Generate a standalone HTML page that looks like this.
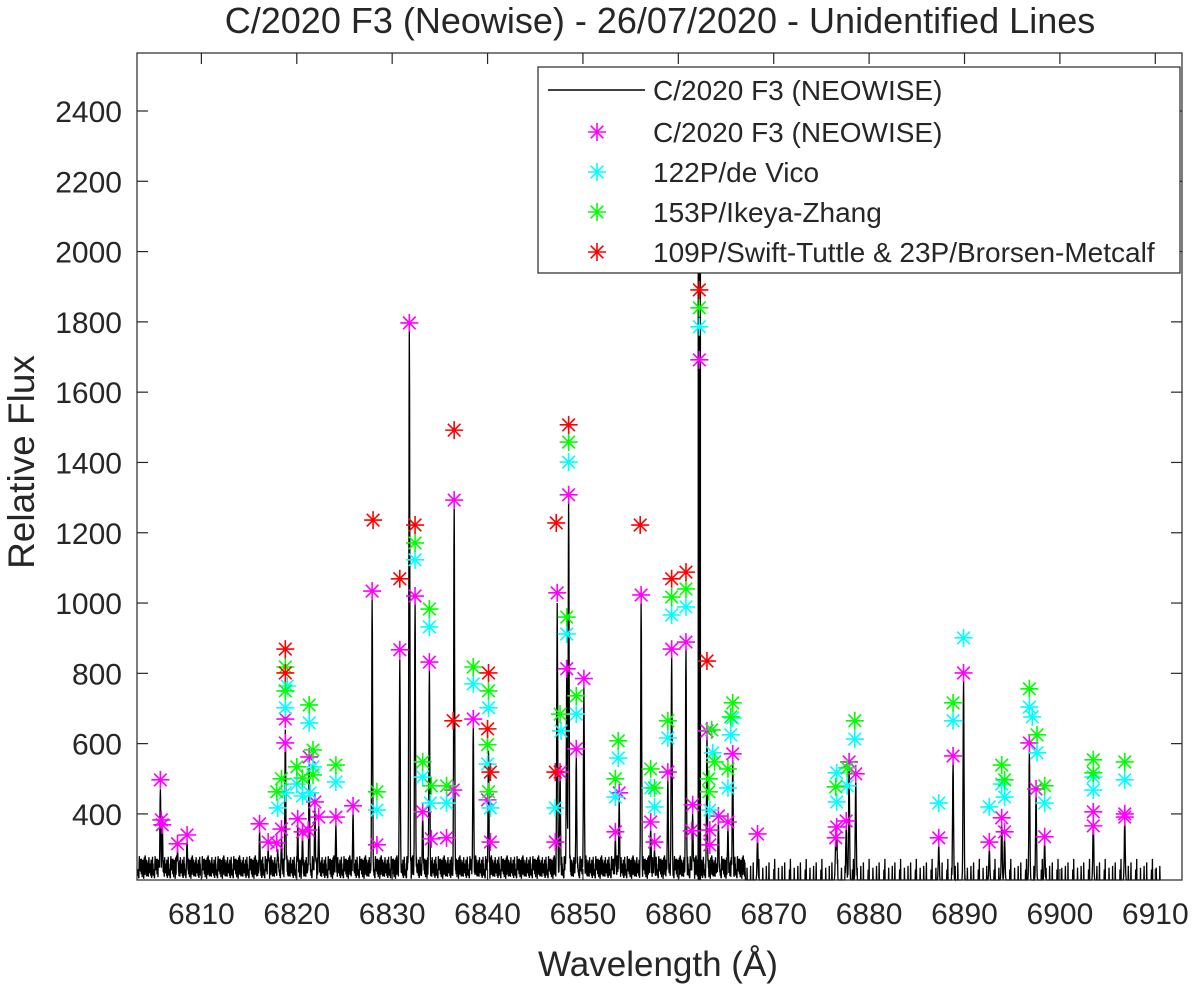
<!DOCTYPE html>
<html><head><meta charset="utf-8"><style>
body{margin:0;background:#fff;}
svg text{font-family:"Liberation Sans",Arial,sans-serif;fill:#262626;}
</style></head><body>
<svg id="chart" width="1200" height="989" viewBox="0 0 1200 989" xmlns="http://www.w3.org/2000/svg">
<rect width="1200" height="989" fill="#fff"/>
<text x="660" y="33" font-size="36" text-anchor="middle" fill="#000">C/2020 F3 (Neowise) - 26/07/2020 - Unidentified Lines</text>
<text transform="translate(34,462) rotate(-90)" font-size="37" text-anchor="middle">Relative Flux</text>
<text x="658" y="976" font-size="35" text-anchor="middle">Wavelength (Å)</text>
<g id="spec"></g><g id="marks"></g><g id="axes"></g>
<g>
<rect x="538" y="67" width="642" height="206" fill="#fff" stroke="#262626" stroke-width="1.2"/>
<line x1="548" y1="90" x2="645" y2="90" stroke="#000" stroke-width="1.5"/>
<text x="653" y="100" font-size="28" fill="#000">C/2020 F3 (NEOWISE)</text>
<g id="legmarks"></g>
<text x="653" y="142" font-size="28" fill="#000">C/2020 F3 (NEOWISE)</text>
<text x="653" y="182" font-size="28" fill="#000">122P/de Vico</text>
<text x="653" y="222" font-size="28" fill="#000">153P/Ikeya-Zhang</text>
<text x="653" y="262" font-size="28" fill="#000">109P/Swift-Tuttle &amp; 23P/Brorsen-Metcalf</text>
</g>
</svg>
<script>
const xTicks=[6810,6820,6830,6840,6850,6860,6870,6880,6890,6900,6910];
const yTicks=[400,600,800,1000,1200,1400,1600,1800,2000,2200,2400];
const peakWl=[6805.7,6805.9,6807.5,6808.5,6816.1,6817.0,6818.0,6818.4,6818.8,6820.1,6820.6,6821.3,6821.9,6822.3,6824.1,6825.9,6827.9,6830.8,6831.8,6832.4,6833.2,6833.9,6836.5,6838.5,6840.1,6847.3,6847.6,6848.3,6848.5,6849.3,6850.1,6853.4,6853.8,6856.1,6857.1,6857.5,6858.9,6859.3,6860.8,6861.5,6862.2,6863.0,6864.2,6865.2,6865.7,6868.3,6876.5,6876.6,6877.6,6877.9,6878.6,6887.3,6888.8,6889.9,6892.6,6893.9,6894.2,6896.8,6897.5,6898.4,6903.5,6906.8];
const peakFlux=[470,380,300,320,350,300,300,330,640,370,340,530,420,370,370,400,1010,840,1780,1000,400,810,1280,650,580,1000,520,790,1290,560,760,330,440,1000,360,300,500,850,870,400,2300,620,380,360,550,330,330,350,360,530,500,310,545,780,300,370,330,580,450,320,380,380];
const noise=[22,45,10,58,28,15,65,31,8,50,26,60,18,43,12,55,29,6,48,62,21,14,53,30,9,46,70,24,17,57,11,49,27,63,19,5,52,36,13,59,23,47,7,54,20,66,16,44,25,51,3,56,33,61,14,40,68,21,9,47,35,58,12,29,64,38];
const magWl=[6805.7,6805.8,6805.9,6807.5,6808.5,6816.1,6817.0,6817.9,6818.4,6818.8,6818.8,6820.1,6820.6,6821.2,6821.3,6821.9,6822.3,6824.1,6825.9,6827.9,6828.4,6830.8,6831.8,6832.4,6833.2,6833.9,6834.1,6835.7,6836.4,6836.5,6838.5,6840.0,6840.3,6847.3,6847.1,6847.6,6848.3,6848.5,6850.1,6849.3,6853.4,6853.8,6856.1,6857.1,6857.5,6858.9,6859.3,6860.8,6861.5,6861.4,6862.2,6863.0,6863.3,6863.3,6864.2,6865.2,6865.7,6868.3,6876.5,6876.6,6877.6,6877.9,6878.6,6887.3,6888.8,6889.9,6892.6,6893.9,6894.2,6896.8,6897.5,6898.4,6903.5,6903.5,6906.8,6906.8];
const magFlux=[497,383,369,315,340,372,320,317,357,670,602,386,349,354,562,434,391,391,423,1034,312,867,1797,1020,406,832,329,332,468,1293,670,440,320,1029,320,519,813,1308,785,585,349,460,1023,377,320,519,869,889,426,352,1692,636,354,312,394,377,571,343,332,363,380,548,514,332,565,801,320,389,349,602,471,335,406,366,400,391];
const cyaWl=[6818.0,6818.8,6818.8,6819.0,6820.0,6820.6,6821.4,6821.7,6821.3,6824.1,6828.4,6832.4,6833.9,6833.2,6834.0,6835.7,6838.5,6840.1,6840.0,6840.3,6847.1,6847.7,6848.3,6848.5,6849.3,6853.7,6853.4,6857.1,6857.5,6858.9,6859.3,6860.8,6862.2,6863.6,6863.3,6865.2,6865.5,6865.7,6876.6,6876.6,6877.7,6878.5,6887.3,6888.8,6889.9,6892.6,6893.9,6894.2,6896.8,6897.1,6897.6,6898.4,6903.5,6903.5,6906.8];
const cyaFlux=[417,702,460,764,485,451,460,534,659,491,411,1123,932,505,431,431,770,702,542,417,417,636,912,1401,684,559,448,474,420,616,966,989,1786,574,411,474,625,673,434,517,480,613,431,665,901,420,485,448,704,676,574,431,505,468,497];
const grnWl=[6817.9,6818.4,6818.8,6818.8,6820.0,6820.6,6821.7,6821.7,6821.3,6824.1,6828.4,6832.4,6833.2,6833.9,6834.1,6835.7,6838.5,6840.1,6840.0,6840.1,6847.6,6848.3,6848.5,6849.3,6853.7,6853.4,6857.1,6857.5,6858.9,6859.3,6860.8,6862.2,6863.5,6863.8,6863.2,6863.2,6865.2,6865.5,6865.7,6876.5,6877.7,6878.5,6888.8,6893.9,6894.2,6896.8,6897.6,6898.4,6903.5,6903.5,6906.8];
const grnFlux=[463,500,818,750,534,502,511,582,710,539,463,1171,548,983,480,480,818,750,597,463,684,960,1458,736,608,500,528,474,665,1017,1040,1840,639,548,500,463,528,676,716,477,531,665,716,539,497,756,625,480,554,517,548];
const redWl=[6818.8,6818.8,6828.0,6830.8,6832.4,6836.4,6836.5,6840.1,6840.0,6840.3,6847.1,6847.2,6848.5,6856.0,6859.3,6860.8,6862.2,6863.0];
const redFlux=[869,801,1236,1069,1222,665,1492,801,642,519,519,1228,1507,1222,1069,1088,1891,835];

const X0=6803.25,X1=6912.8,PL=137,PR=1182,Y0=212,Y1=2565,PT=53,PB=880;
const sx=v=>PL+(v-X0)/(X1-X0)*(PR-PL);
const sy=v=>PB-(v-Y0)/(Y1-Y0)*(PB-PT);
const NS="http://www.w3.org/2000/svg";
function mk(t,a,p){const e=document.createElementNS(NS,t);for(const k in a)e.setAttribute(k,a[k]);p.appendChild(e);return e;}

let pts=[];
for(let i=0;;i++){const w=6803.3+i*0.025;if(w>6910.5)break;
 let n=noise[(i*7)%noise.length];
 if(w>6867)n=n>=64?(n-58)*5:0;
 let f=Y0+n;
 for(let k=0;k<peakWl.length;k++){const d=(w-peakWl[k])/0.05;if(Math.abs(d)<4){f=Math.max(f,Y0+(peakFlux[k]-Y0)*Math.exp(-d*d/2));}}
 pts.push(sx(w).toFixed(1)+","+Math.max(sy(Math.min(f,Y1)),PT).toFixed(1));}
const spec=document.getElementById('spec');
const pl=mk('polyline',{points:pts.join(' '),fill:'none',stroke:'#000','stroke-width':1.3},spec);


const th=mk('line',{x1:sx(6862.2),x2:sx(6862.2),y1:sy(Y0),y2:sy(2300),stroke:'#000','stroke-width':3.5},spec);



function star(p,x,y,c,r){mk('path',{d:`M${x-r},${y}H${x+r}M${x},${y-r}V${y+r}M${x-r*.7},${y-r*.7}L${x+r*.7},${y+r*.7}M${x-r*.7},${y+r*.7}L${x+r*.7},${y-r*.7}`,stroke:c,'stroke-width':1.6,fill:'none'},p);}
const marks=document.getElementById('marks');
const series=[[magWl,magFlux,'#ff00ff','magenta-markers'],[cyaWl,cyaFlux,'#00ffff','cyan-markers'],[grnWl,grnFlux,'#00ff00','green-markers'],[redWl,redFlux,'#ff0000','red-markers']];
series.forEach(s=>{const g=mk('g',{},marks);
 
 
 for(let i=0;i<s[0].length;i++)star(g,sx(s[0][i]),sy(s[1][i]),s[2],9);});
const lm=document.getElementById('legmarks');
series.forEach((s,i)=>star(lm,597,132+40*i,s[2],9));

const ax=document.getElementById('axes');
mk('rect',{x:PL,y:PT,width:PR-PL,height:PB-PT,fill:'none',stroke:'#262626','stroke-width':1.2},ax);
xTicks.forEach(t=>{const x=sx(t);
 mk('line',{x1:x,x2:x,y1:PB,y2:PB-11,stroke:'#262626','stroke-width':1.2},ax);
 mk('line',{x1:x,x2:x,y1:PT,y2:PT+11,stroke:'#262626','stroke-width':1.2},ax);
 const tx=mk('text',{x:x,y:924,'font-size':30,'text-anchor':'middle'},ax);tx.textContent=t;
 
 });
yTicks.forEach(t=>{const y=sy(t);
 mk('line',{x1:PL,x2:PL+11,y1:y,y2:y,stroke:'#262626','stroke-width':1.2},ax);
 mk('line',{x1:PR,x2:PR-11,y1:y,y2:y,stroke:'#262626','stroke-width':1.2},ax);
 const tx=mk('text',{x:122,y:y+11,'font-size':30,'text-anchor':'end'},ax);tx.textContent=t;
 
 });
</script>
</body></html>
